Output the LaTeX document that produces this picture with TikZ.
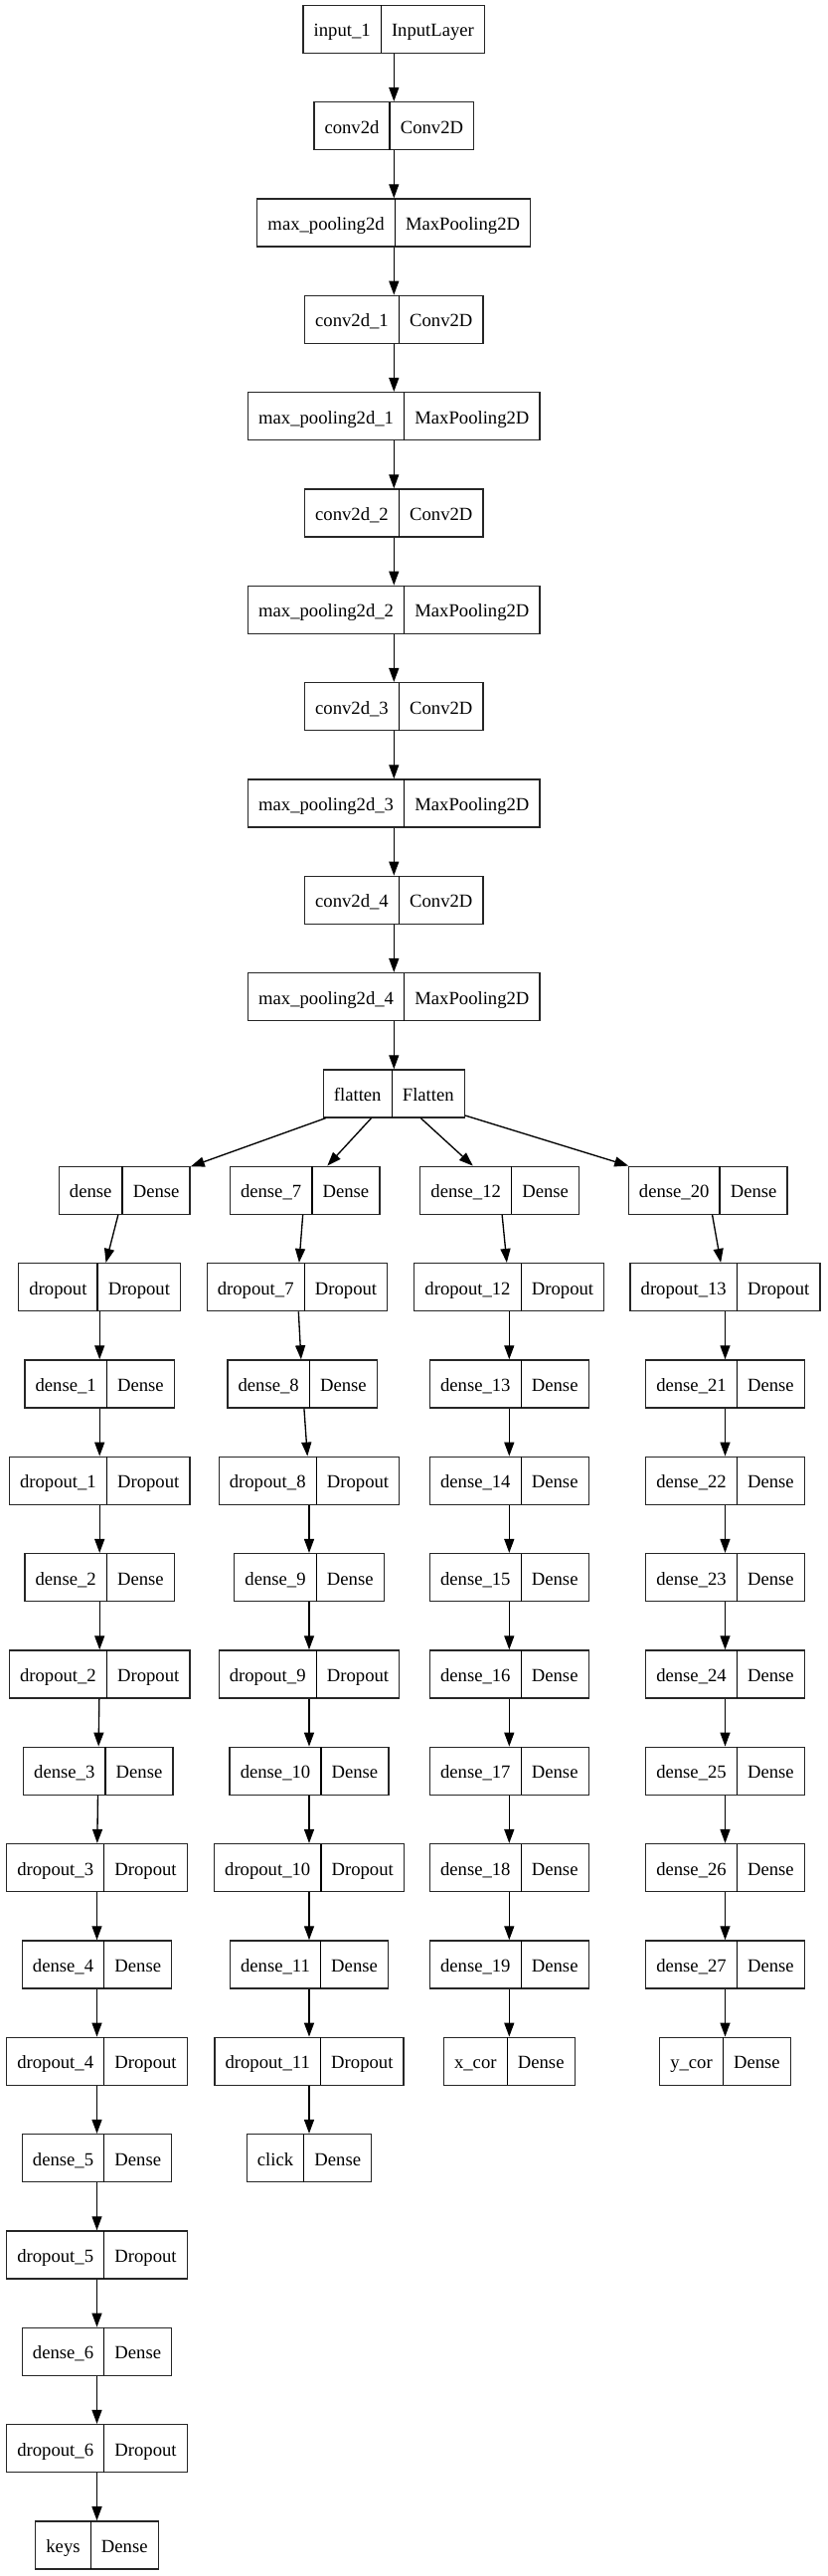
\documentclass[tikz,border=0pt]{standalone}
\usepackage{fontspec}
\setmainfont{Liberation Serif}
\usetikzlibrary{arrows.meta}
\newcommand\recf[2]{\kern8pt#1\kern7.5pt\vrule width 1pt height 23.6pt depth 12.4pt\kern7.5pt#2\kern8pt\relax}
\begin{document}
\begin{tikzpicture}[x=0.75pt, y=-0.75pt,
  rec/.style={draw=black!85, line width=1pt, inner sep=0pt, font=\fontsize{14}{16}\selectfont},
  edge/.style={-{Triangle[length=10.5pt,width=7.5pt]}, line width=1pt}]
\useasboundingbox (0,0) rectangle (832,2591);
\fill[white] (0,0) rectangle (832,2591);
% main column
\node[rec] (in) at (396.3,29.3)   {\recf{input\_1}{InputLayer}};
\node[rec] (c0) at (396.3,126.63) {\recf{conv2d}{Conv2D}};
\node[rec] (m0) at (396.3,223.96) {\recf{max\_pooling2d}{MaxPooling2D}};
\node[rec] (c1) at (396.3,321.29) {\recf{conv2d\_1}{Conv2D}};
\node[rec] (m1) at (396.3,418.62) {\recf{max\_pooling2d\_1}{MaxPooling2D}};
\node[rec] (c2) at (396.3,515.95) {\recf{conv2d\_2}{Conv2D}};
\node[rec] (m2) at (396.3,613.28) {\recf{max\_pooling2d\_2}{MaxPooling2D}};
\node[rec] (c3) at (396.3,710.61) {\recf{conv2d\_3}{Conv2D}};
\node[rec] (m3) at (396.3,807.94) {\recf{max\_pooling2d\_3}{MaxPooling2D}};
\node[rec] (c4) at (396.3,905.27) {\recf{conv2d\_4}{Conv2D}};
\node[rec] (m4) at (396.3,1002.6) {\recf{max\_pooling2d\_4}{MaxPooling2D}};
\node[rec] (fl) at (396.3,1099.93) {\recf{flatten}{Flatten}};
% column 1
\node[rec] (d0) at (125.2,1197.26) {\recf{dense}{Dense}};
\node[rec] (p0) at (100.2,1294.59) {\recf{dropout}{Dropout}};
\node[rec] (d1) at (100.2,1391.92) {\recf{dense\_1}{Dense}};
\node[rec] (p1) at (100.2,1489.25) {\recf{dropout\_1}{Dropout}};
\node[rec] (d2) at (100.2,1586.58) {\recf{dense\_2}{Dense}};
\node[rec] (p2) at (100.2,1683.91) {\recf{dropout\_2}{Dropout}};
\node[rec] (d3) at (98.8,1781.24) {\recf{dense\_3}{Dense}};
\node[rec] (p3) at (97.5,1878.57) {\recf{dropout\_3}{Dropout}};
\node[rec] (d4) at (97.5,1975.9) {\recf{dense\_4}{Dense}};
\node[rec] (p4) at (97.5,2073.23) {\recf{dropout\_4}{Dropout}};
\node[rec] (d5) at (97.5,2170.56) {\recf{dense\_5}{Dense}};
\node[rec] (p5) at (97.5,2267.89) {\recf{dropout\_5}{Dropout}};
\node[rec] (d6) at (97.5,2365.22) {\recf{dense\_6}{Dense}};
\node[rec] (p6) at (97.5,2462.55) {\recf{dropout\_6}{Dropout}};
\node[rec] (keys) at (97.5,2559.88) {\recf{keys}{Dense}};
% column 2
\node[rec] (d7) at (306.6,1197.26) {\recf{dense\_7}{Dense}};
\node[rec] (p7) at (299,1294.59) {\recf{dropout\_7}{Dropout}};
\node[rec] (d8) at (304.2,1391.92) {\recf{dense\_8}{Dense}};
\node[rec] (p8) at (311,1489.25) {\recf{dropout\_8}{Dropout}};
\node[rec] (d9) at (311,1586.58) {\recf{dense\_9}{Dense}};
\node[rec] (p9) at (311,1683.91) {\recf{dropout\_9}{Dropout}};
\node[rec] (d10) at (311,1781.24) {\recf{dense\_10}{Dense}};
\node[rec] (p10) at (311,1878.57) {\recf{dropout\_10}{Dropout}};
\node[rec] (d11) at (311,1975.9) {\recf{dense\_11}{Dense}};
\node[rec] (p11) at (311,2073.23) {\recf{dropout\_11}{Dropout}};
\node[rec] (click) at (311,2170.56) {\recf{click}{Dense}};
% column 3
\node[rec] (d12) at (502.7,1197.26) {\recf{dense\_12}{Dense}};
\node[rec] (p12) at (512.3,1294.59) {\recf{dropout\_12}{Dropout}};
\node[rec] (d13) at (512.3,1391.92) {\recf{dense\_13}{Dense}};
\node[rec] (d14) at (512.3,1489.25) {\recf{dense\_14}{Dense}};
\node[rec] (d15) at (512.3,1586.58) {\recf{dense\_15}{Dense}};
\node[rec] (d16) at (512.3,1683.91) {\recf{dense\_16}{Dense}};
\node[rec] (d17) at (512.3,1781.24) {\recf{dense\_17}{Dense}};
\node[rec] (d18) at (512.3,1878.57) {\recf{dense\_18}{Dense}};
\node[rec] (d19) at (512.3,1975.9) {\recf{dense\_19}{Dense}};
\node[rec] (xcor) at (512.3,2073.23) {\recf{x\_cor}{Dense}};
% column 4
\node[rec] (d20) at (712.2,1197.26) {\recf{dense\_20}{Dense}};
\node[rec] (p13) at (729.5,1294.59) {\recf{dropout\_13}{Dropout}};
\node[rec] (d21) at (729.5,1391.92) {\recf{dense\_21}{Dense}};
\node[rec] (d22) at (729.5,1489.25) {\recf{dense\_22}{Dense}};
\node[rec] (d23) at (729.5,1586.58) {\recf{dense\_23}{Dense}};
\node[rec] (d24) at (729.5,1683.91) {\recf{dense\_24}{Dense}};
\node[rec] (d25) at (729.5,1781.24) {\recf{dense\_25}{Dense}};
\node[rec] (d26) at (729.5,1878.57) {\recf{dense\_26}{Dense}};
\node[rec] (d27) at (729.5,1975.9) {\recf{dense\_27}{Dense}};
\node[rec] (ycor) at (729.5,2073.23) {\recf{y\_cor}{Dense}};
% edges
\foreach \a/\b in {in/c0, c0/m0, m0/c1, c1/m1, m1/c2, c2/m2, m2/c3, c3/m3, m3/c4, c4/m4, m4/fl,
  fl/d0, fl/d7, fl/d12, fl/d20,
  d0/p0, p0/d1, d1/p1, p1/d2, d2/p2, p2/d3, d3/p3, p3/d4, d4/p4, p4/d5, d5/p5, p5/d6, d6/p6, p6/keys,
  d7/p7, p7/d8, d8/p8, p8/d9, d9/p9, p9/d10, d10/p10, p10/d11, d11/p11, p11/click,
  d12/p12, p12/d13, d13/d14, d14/d15, d15/d16, d16/d17, d17/d18, d18/d19, d19/xcor,
  d20/p13, p13/d21, d21/d22, d22/d23, d23/d24, d24/d25, d25/d26, d26/d27, d27/ycor}
  \draw[edge] (\a) -- (\b);
\end{tikzpicture}
\end{document}
